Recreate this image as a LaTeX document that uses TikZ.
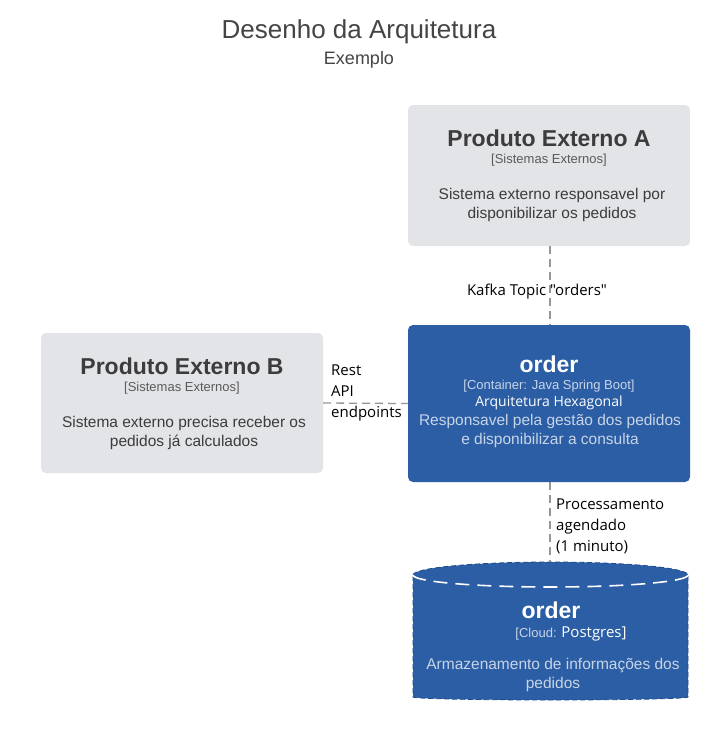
\documentclass[tikz,border=0pt]{standalone}
\usepackage{fontspec}
\setmainfont{Liberation Sans}
\newfontfamily\segoe{Open Sans}
\definecolor{boxgray}{RGB}{227,228,231}
\definecolor{boxblue}{RGB}{43,94,164}
\definecolor{blueedge}{RGB}{30,75,140}
\definecolor{titlegray}{RGB}{68,68,68}
\definecolor{textgray}{RGB}{60,60,60}
\definecolor{subgray}{RGB}{90,90,90}
\definecolor{linegray}{RGB}{150,150,150}
\definecolor{subblue}{RGB}{200,212,232}
\begin{document}
\begin{tikzpicture}[x=1pt,y=-1pt,
  graybox/.style={draw=none,fill=boxgray,rounded corners=5pt,inner sep=0pt},
  bluebox/.style={draw=none,fill=boxblue,rounded corners=5pt,inner sep=0pt},
  ttl/.style={font=\fontsize{23}{27}\selectfont\bfseries,inner sep=0pt},
  sub/.style={font=\fontsize{13}{15}\selectfont,inner sep=0pt},
  desc/.style={font=\fontsize{15.5}{19}\selectfont,inner sep=0pt,align=center},
  conn/.style={draw=linegray,line width=1.3pt,dash pattern=on 8pt off 5pt},
  clab/.style={font=\segoe\fontsize{15}{21}\selectfont,inner sep=0pt,text=black,align=left}]
\useasboundingbox (0,0) rectangle (719,732);
\fill[white] (0,0) rectangle (719,732);
% title
\node[font=\fontsize{26}{30}\selectfont,text=titlegray,inner sep=0pt] (title) at (359,32) {Desenho da Arquitetura};
\node[font=\fontsize{18}{21}\selectfont,text=titlegray,inner sep=0pt] (subtitle) at (359,60) {Exemplo};
% Box A
\node[graybox,minimum width=282pt,minimum height=141pt] (A) at (549,175.5) {};
\node[ttl,text=textgray] (Atitle) at (549,138) {Produto Externo A};
\node[sub,text=subgray] (Asub) at (549,160) {[Sistemas Externos]};
\node[desc,text=textgray] (Adesc) at (552,205) {Sistema externo responsavel por\\disponibilizar os pedidos};
% Box B
\node[graybox,minimum width=282pt,minimum height=140pt] (B) at (182,403) {};
\node[ttl,text=textgray] (Btitle) at (182,366) {Produto Externo B};
\node[sub,text=subgray] (Bsub) at (182,388) {[Sistemas Externos]};
\node[desc,text=textgray] (Bdesc) at (184,433) {Sistema externo precisa receber os\\pedidos já calculados};
% order container
\node[bluebox,minimum width=282pt,minimum height=157pt] (O) at (549,403.5) {};
\node[ttl,text=white] (Otitle) at (549,364) {order};
\node[sub,text=subblue] (Osub) at (549,386) {[Container: Java Spring Boot]};
\node[font=\segoe\fontsize{14}{16}\selectfont,text=white,inner sep=0pt] (Ohex) at (549,403) {Arquitetura Hexagonal};
\node[desc,text=subblue] (Odesc) at (550,431) {Responsavel pela gestão dos pedidos\\e disponibilizar a consulta};
% database cylinder
\coordinate (Dtop) at (550,562);
\fill[boxblue] (413,575) arc[start angle=180,end angle=360,x radius=137.5,y radius=13]
  -- (688,697) arc[start angle=0,end angle=180,x radius=137.5,y radius=3] -- cycle;
\draw[blueedge,line width=0.8pt,dash pattern=on 5pt off 3pt] (413,575) arc[start angle=180,end angle=360,x radius=137.5,y radius=13]
  -- (688,697) arc[start angle=0,end angle=180,x radius=137.5,y radius=3] -- cycle;
\draw[white,line width=1.6pt,dash pattern=on 14pt off 8pt] (413,575) arc[start angle=180,end angle=0,x radius=137.5,y radius=12];
\node[ttl,text=white] (Dtitle) at (551,610) {order};
\node[inner sep=0pt] (Dsub) at (571,634) {\fontsize{13}{15}\selectfont\color{subblue}[Cloud: \segoe\fontsize{15}{17}\selectfont\color{white}Postgres]};
\node[desc,text=subblue] (Ddesc) at (553,675) {Armazenamento de informações dos\\pedidos};
% connectors
\path[conn] (A.south -| Dtop) -- (O.north -| Dtop);
\path[conn] (B.east) -- (O.west);
\path[conn] (O.south -| Dtop) -- (Dtop);
% labels
\node[clab,anchor=center] (L1) at (537,292) {Kafka Topic "orders"};
\node[clab,anchor=north west] (L2) at (331,365) {Rest\\API\\endpoints};
\node[clab,anchor=north west] (L3) at (556,499) {Processamento\\agendado\\(1 minuto)};
\end{tikzpicture}
\end{document}
